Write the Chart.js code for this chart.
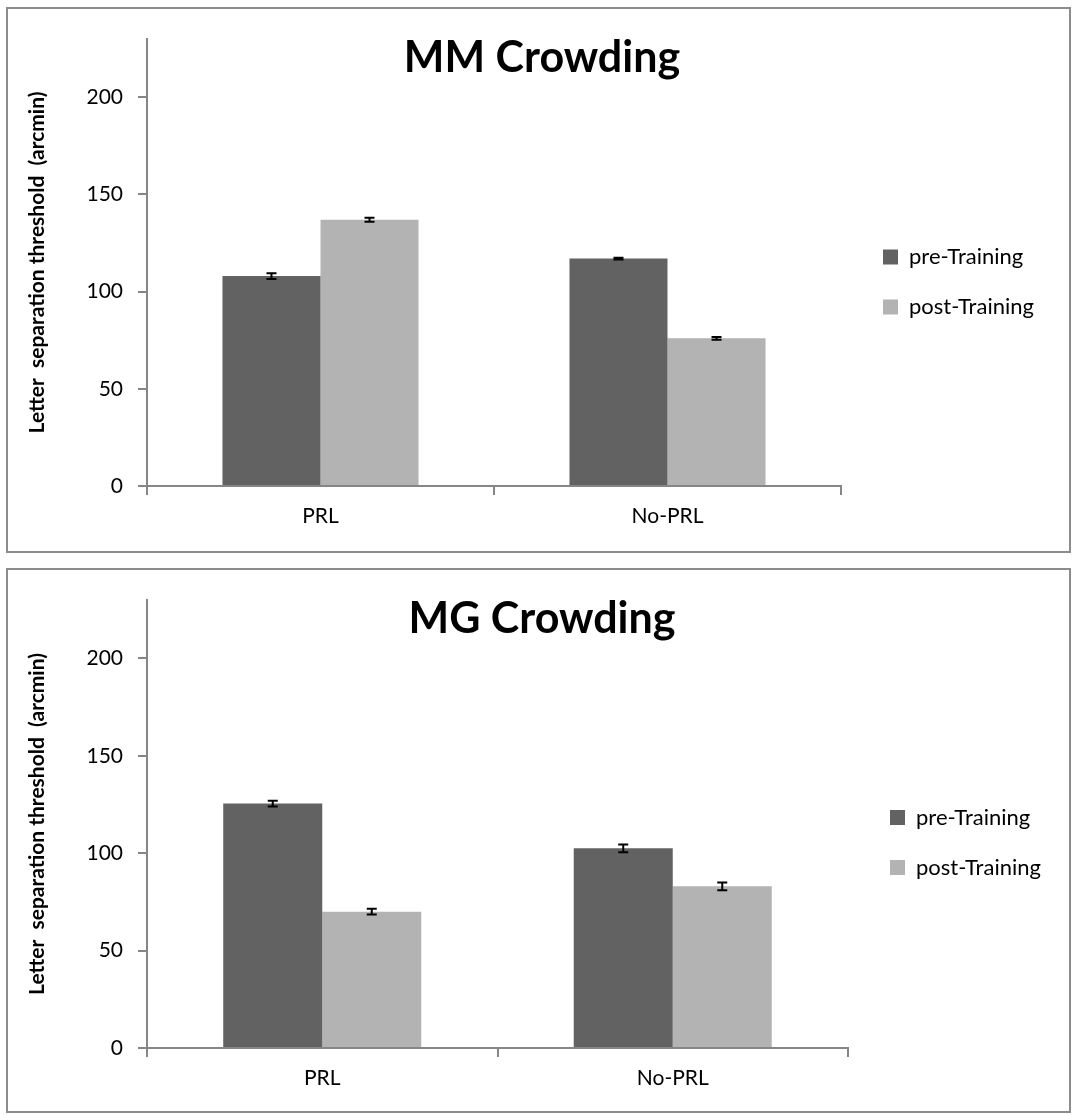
<!DOCTYPE html>
<html lang="en">
<head>
<meta charset="UTF-8">
<title>MM / MG Crowding</title>
<style>
  html, body {
    margin: 0;
    background: #fff;
    overflow: hidden;
    font-family: 'Lato', sans-serif;
  }
  .panel {
    position: absolute;
    left: 6px;
    width: 1065px;
    box-sizing: border-box;
    border: 2px solid #8c8c8c;
    background: #fff;
  }
  #panelTop { top: 7px; height: 546px; }
  #panelBottom { top: 568px; height: 545px; }
  .panel canvas { display: block; }
</style>
</head>
<body>
<div class="panel" id="panelTop"><canvas id="mmChart" width="1100" height="542"></canvas></div>
<div class="panel" id="panelBottom"><canvas id="mgChart" width="1100" height="541"></canvas></div>

<script src="https://cdn.jsdelivr.net/npm/chart.js"></script>
<script>
  // categories and series
  const categories = ['PRL', 'No-PRL'];
  const seriesNames = ['pre-Training', 'post-Training'];
  const yTicks = [0, 50, 100, 150, 200];
  const yMax = 230;

  // MM Crowding
  const mmPre = [108, 117];
  const mmPost = [137, 76];
  const mmPreErr = [1.5, 0.5];
  const mmPostErr = [1, 0.7];

  // MG Crowding
  const mgPre = [125.5, 102.5];
  const mgPost = [70, 83];
  const mgPreErr = [1.5, 2];
  const mgPostErr = [1.5, 2];

  const preColor = '#626262';
  const postColor = '#b3b3b3';
  const axisColor = '#868686';
  const font = "'Lato', sans-serif";
  const padBottom = 26;

  // draws the error bars from each dataset's errors array
  const errorBars = {
    id: 'errorBars',
    afterDatasetsDraw(chart) {
      const ctx = chart.ctx;
      const y = chart.scales.y;
      ctx.save();
      ctx.strokeStyle = '#000';
      ctx.lineWidth = 2;
      chart.data.datasets.forEach((ds, i) => {
        const meta = chart.getDatasetMeta(i);
        meta.data.forEach((bar, j) => {
          const v = ds.data[j], e = ds.errors[j];
          const top = y.getPixelForValue(v + e);
          const bot = y.getPixelForValue(v - e);
          ctx.beginPath();
          ctx.moveTo(bar.x, top); ctx.lineTo(bar.x, bot);
          ctx.moveTo(bar.x - 5, top); ctx.lineTo(bar.x + 5, top);
          ctx.moveTo(bar.x - 5, bot); ctx.lineTo(bar.x + 5, bot);
          ctx.stroke();
        });
      });
      ctx.restore();
    }
  };

  // big title drawn over the plot
  const bigTitle = {
    id: 'bigTitle',
    afterDraw(chart, args, opts) {
      const ctx = chart.ctx;
      ctx.save();
      ctx.font = 'bold 43px ' + font;
      ctx.fillStyle = '#000';
      ctx.textAlign = 'center';
      ctx.textBaseline = 'alphabetic';
      ctx.fillText(opts.text, opts.x, opts.y);
      ctx.restore();
    }
  };

  // empty box between the plot and the legend
  // (display:false keeps it out of the layout's width sharing)
  const legendGap = {
    id: 'legendGap',
    beforeInit(chart, args, opts) {
      if (!Chart.layouts) return;
      Chart.layouts.addBox(chart, {
        position: 'right',
        weight: 500,
        fullSize: false,
        options: { display: false },
        width: 0, height: 0, left: 0, top: 0, right: 0, bottom: 0,
        isHorizontal() { return false; },
        update(maxWidth, maxHeight) { this.width = opts.width; this.height = maxHeight; },
        draw() {}
      });
    }
  };

  function makeChart(id, title, pre, post, preErr, postErr, areaRight, areaBottom) {
    const chart = new Chart(document.getElementById(id), {
      type: 'bar',
      data: {
        labels: categories,
        datasets: [
          { label: seriesNames[0], data: pre, errors: preErr, backgroundColor: preColor,
            barPercentage: 1.0, categoryPercentage: 0.565 },
          { label: seriesNames[1], data: post, errors: postErr, backgroundColor: postColor,
            barPercentage: 1.0, categoryPercentage: 0.565 }
        ]
      },
      options: {
        responsive: false,
        animation: false,
        layout: { padding: { top: 30, left: 0, right: 10, bottom: padBottom } },
        plugins: {
          legend: {
            position: 'right',
            labels: {
              boxWidth: 15,
              boxHeight: 15,
              padding: 28,
              color: '#000',
              font: { family: font, size: 22 }
            }
          },
          tooltip: { enabled: false },
          bigTitle: { text: title, x: 534, y: 63 },
          legendGap: { width: 14 }
        },
        scales: {
          x: {
            afterFit: (scale) => { scale.height = scale.chart.height - padBottom - areaBottom; },
            grid: { display: true, drawOnChartArea: false, offset: true, tickLength: 9, color: axisColor, lineWidth: 2 },
            border: { color: axisColor, width: 2 },
            ticks: { color: '#000', font: { family: font, size: 21 }, padding: 9 }
          },
          y: {
            min: 0,
            max: yMax,
            afterBuildTicks: (scale) => { scale.ticks = yTicks.map(v => ({ value: v })); },
            afterFit: (scale) => { scale.width = 139; },
            grid: { display: true, drawOnChartArea: false, tickLength: 9, color: axisColor, lineWidth: 2 },
            border: { color: axisColor, width: 2 },
            ticks: { color: '#000', font: { family: font, size: 21 }, padding: 15 },
            title: {
              display: true,
              text: 'Letter  separation threshold  (arcmin)',
              color: '#000',
              font: { family: font, size: 21, weight: 'bold' },
              padding: { top: 17, bottom: 0 }
            }
          }
        }
      },
      plugins: [errorBars, bigTitle, legendGap]
    });
    // shift the legend so the plot ends where it does in the figure
    chart.options.layout.padding.right += chart.chartArea.right - areaRight;
    chart.update();
    return chart;
  }

  makeChart('mmChart', 'MM Crowding', mmPre, mmPost, mmPreErr, mmPostErr, 833, 477);
  makeChart('mgChart', 'MG Crowding', mgPre, mgPost, mgPreErr, mgPostErr, 840, 478);
</script>
</body>
</html>
